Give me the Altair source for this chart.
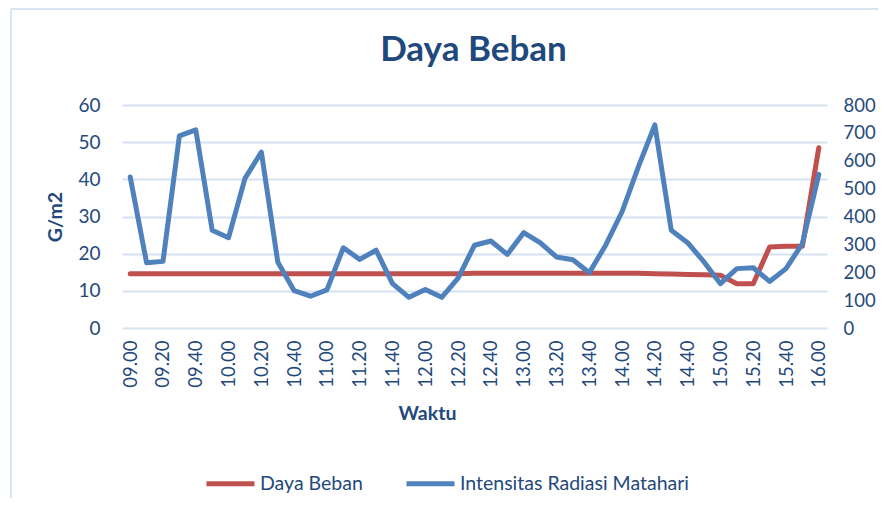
import altair as alt
import pandas as pd

times = ["09.00", "09.10", "09.20", "09.30", "09.40", "09.50",
         "10.00", "10.10", "10.20", "10.30", "10.40", "10.50",
         "11.00", "11.10", "11.20", "11.30", "11.40", "11.50",
         "12.00", "12.10", "12.20", "12.30", "12.40", "12.50",
         "13.00", "13.10", "13.20", "13.30", "13.40", "13.50",
         "14.00", "14.10", "14.20", "14.30", "14.40", "14.50",
         "15.00", "15.10", "15.20", "15.30", "15.40", "15.50",
         "16.00"]

daya_beban = [14.6, 14.6, 14.6, 14.6, 14.6, 14.6,
              14.6, 14.6, 14.6, 14.6, 14.6, 14.6,
              14.6, 14.6, 14.6, 14.6, 14.6, 14.6,
              14.6, 14.6, 14.6, 14.7, 14.7, 14.7,
              14.7, 14.7, 14.7, 14.7, 14.7, 14.7,
              14.7, 14.7, 14.6, 14.5, 14.4, 14.3,
              14.2, 11.9, 11.9, 21.8, 22.0, 22.0,
              48.5]

radiasi = [542, 234, 239, 689, 711, 351,
           324, 537, 631, 237, 134, 114,
           137, 288, 246, 279, 159, 110,
           138, 110, 179, 297, 312, 264,
           342, 306, 255, 245, 198, 297,
           417, 579, 729, 351, 306, 237,
           159, 213, 216, 167, 213, 303,
           551]

series_names = ["Daya Beban", "Intensitas Radiasi Matahari"]
series_colors = ["#c0504d", "#4f81bd"]
chart_title = "Daya Beban"

df = pd.DataFrame({"Waktu": times, "Beban": daya_beban, "Radiasi": radiasi})

W, H = 705, 223
FONT = "Lato"
TXT = "#1f497d"
GRID = "#d6e2f2"

x_enc = alt.X(
    "Waktu:O", sort=times,
    scale=alt.Scale(type="point", padding=0.5),
    axis=alt.Axis(values=times[::2], labelAngle=-90, labelPadding=12,
                  labelFontSize=18.5, labelColor=TXT, labelFont=FONT,
                  domain=False, ticks=False, grid=False,
                  title="Waktu", titleFont=FONT, titleFontSize=19.5,
                  titleFontWeight="bold", titleColor=TXT,
                  titleX=305, titleY=85, titleBaseline="middle",
                  titleAlign="center"),
)

color_enc = alt.Color(
    "series:N",
    scale=alt.Scale(domain=series_names, range=series_colors),
    legend=alt.Legend(title=None, orient="none", direction="horizontal",
                      legendX=82, legendY=352, symbolType="stroke",
                      symbolSize=2304, symbolStrokeWidth=5,
                      labelFont=FONT, labelFontSize=19.5, labelColor=TXT,
                      labelLimit=0, labelOffset=3, columnPadding=33,
                      padding=0),
)

red = alt.Chart(df).transform_calculate(series="'Daya Beban'").mark_line(
    strokeWidth=5, strokeJoin="round", strokeCap="round"
).encode(
    x=x_enc,
    y=alt.Y("Beban:Q", scale=alt.Scale(domain=[0, 60], nice=False),
            axis=alt.Axis(values=[0, 10, 20, 30, 40, 50, 60], orient="left",
                          grid=True, gridColor=GRID, gridWidth=2,
                          domain=False, ticks=False, labelPadding=22,
                          labelFont=FONT, labelFontSize=19, labelColor=TXT,
                          title="G/m2", titleFont=FONT, titleFontSize=19.5,
                          titleFontWeight="bold", titleColor=TXT,
                          titlePadding=12)),
    color=color_enc,
)

blue = alt.Chart(df).transform_calculate(series="'Intensitas Radiasi Matahari'").mark_line(
    strokeWidth=5, strokeJoin="round", strokeCap="round"
).encode(
    x=x_enc,
    y=alt.Y("Radiasi:Q", scale=alt.Scale(domain=[0, 800], nice=False),
            axis=alt.Axis(values=[0, 100, 200, 300, 400, 500, 600, 700, 800],
                          orient="right", grid=False, domain=False, ticks=False,
                          labelPadding=16, labelFont=FONT, labelFontSize=18.5,
                          labelColor=TXT, title=None)),
    color=color_enc,
)

one = pd.DataFrame({"a": [0]})
frame_top = alt.Chart(one).mark_rule(color="#d9e4f3", strokeWidth=2).encode(
    x=alt.value(-111), x2=alt.value(W + 60), y=alt.value(-96)
)
frame_left = alt.Chart(one).mark_rule(color="#d9e4f3", strokeWidth=2).encode(
    x=alt.value(-111), y=alt.value(-96), y2=alt.value(H + 200)
)
title_txt = alt.Chart(one).mark_text(
    text=chart_title, font=FONT, fontSize=35, fontWeight="bold", color=TXT,
    align="center", baseline="alphabetic"
).encode(x=alt.value(W / 2 - 1), y=alt.value(-44))

chart = alt.layer(frame_top, frame_left, title_txt, red, blue).resolve_scale(
    y="independent"
).properties(
    width=W, height=H,
    autosize=alt.AutoSizeParams(type="none"),
    padding={"left": 114, "top": 97, "right": 51, "bottom": 170},
).configure_view(stroke=None)

chart.save("out.html", embed_options={"renderer": "svg", "actions": False})
